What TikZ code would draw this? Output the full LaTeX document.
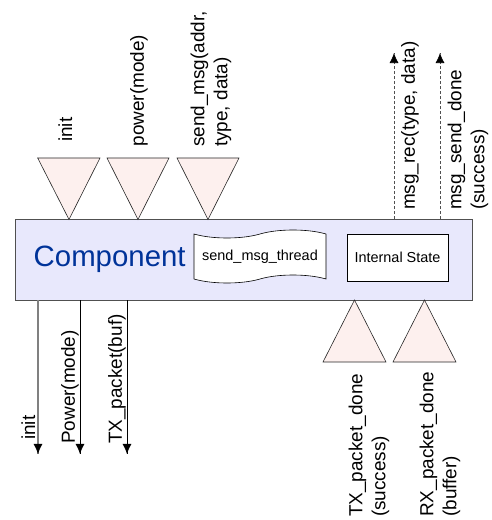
\documentclass[tikz,border=0pt]{standalone}
\usepackage{fontspec}
\setmainfont{Liberation Sans}
\usepackage{xcolor}
\definecolor{lgray}{RGB}{128,128,128}
\definecolor{dgray}{RGB}{80,80,80}
\definecolor{boxblue}{RGB}{232,232,252}
\definecolor{portpink}{RGB}{253,240,238}
\definecolor{compblue}{RGB}{0,51,153}
\usetikzlibrary{positioning, calc, shapes.symbols, arrows.meta, decorations.markings}
\tikzset{>={Latex[length=10bp,width=9bp]}}
\tikzstyle{Arrow} = [
line width=0.8bp,
decoration={
markings,
mark=at position 0.9999 with {
\arrow{>}}},
postaction = {decorate}]
\tikzstyle{ArrowGray} = [
line width=1.3bp,
lgray,
decoration={
markings,
mark=at position 0.9999 with {
\arrow[black, line width=0.8bp]{>}}},
postaction = {decorate, draw=black, fill=black}]
\tikzstyle{ArrowDash} = [
line width=0.6bp,
dgray,
dash pattern=on 3bp off 2bp,
decoration={
markings,
mark=at position 0.9999 with {
\arrow[black, solid, line width=0.6bp]{>}}},
postaction = {decorate, draw=black, fill=black}]
\tikzstyle{Port} = [draw=black!85, line width=0.6bp, fill=portpink]
\tikzstyle{Label} = [rotate=90, anchor=west, inner sep=0pt, align=left,
font=\fontsize{19}{23}\selectfont]

\begin{document}
\begin{tikzpicture}[x=1bp, y=-1bp]
    \useasboundingbox (0,0) rectangle (492,520);
    \node [draw=dgray, line width=0.8bp, fill=boxblue, minimum width=457bp,
        minimum height=80.5bp, inner sep=0pt] (1) at (243.5,259.75) {};
    \node [anchor=base west, inner sep=0pt, text=compblue,
        font=\fontsize{29.5}{31}\selectfont] (2) at (33.5,266.5) {Component};
    \node [tape, draw, fill=white, line width=0.6bp, minimum width=132bp,
        minimum height=53bp, inner sep=0pt, tape bend height=8bp,
        font=\fontsize{14.5}{16}\selectfont] (3) at (260,256.5) {send\_msg\_thread};
    \node [draw, fill=white, line width=0.6bp, minimum width=101bp,
        minimum height=47bp, inner sep=0pt,
        font=\fontsize{14.5}{16}\selectfont] (4) at (397.5,257.5) {Internal State};

    % ports into the component
    \draw[Port] (37.7,158) -- (100,158) -- (69,219.5) -- cycle;
    \draw[Port] (107,158) -- (169,158) -- (138,219.5) -- cycle;
    \draw[Port] (177,158) -- (239,158) -- (208,219.5) -- cycle;
    \draw[Port] (323,362) -- (386,362) -- (354.5,300) -- cycle;
    \draw[Port] (393,362) -- (456,362) -- (424.5,300) -- cycle;

    \node [Label] (5) at (65.3,142) {init};
    \node [Label] (6) at (139,146.5) {power(mode)};
    \node [Label] (7) at (211,147) {send\_msg(addr,\\type, data)};
    \node [Label] (8) at (369,517) {TX\_packet\_done\\(success)};
    \node [Label] (9) at (440,517) {RX\_packet\_done\\(buffer)};

    % events up
    \coordinate (10) at (394,53);
    \coordinate (11) at (440,53);
    \draw[ArrowDash] (10 |- 1.north) -- (10);
    \draw[ArrowDash] (11 |- 1.north) -- (11);
    \node [Label] (12) at (410,210) {msg\_rec(type, data)};
    \node [Label] (13) at (468,210) {msg\_send\_done\\(success)};

    % commands down
    \coordinate (14) at (38,454);
    \coordinate (15) at (80,454);
    \coordinate (16) at (127,454);
    \draw[ArrowGray] (14 |- 1.south) -- (14);
    \draw[Arrow] (15 |- 1.south) -- (15);
    \draw[Arrow] (16 |- 1.south) -- (16);
    \node [Label] (17) at (28.3,440) {init};
    \node [Label] (18) at (70,444) {Power(mode)};
    \node [Label] (19) at (117,444) {TX\_packet(buf)};
\end{tikzpicture}
\end{document}
